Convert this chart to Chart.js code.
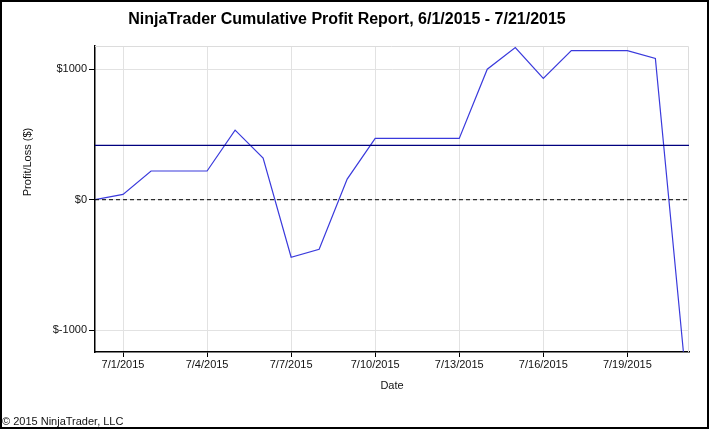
<!DOCTYPE html>
<html>
<head>
<meta charset="utf-8">
<title>NinjaTrader Cumulative Profit Report</title>
<script src="https://cdn.jsdelivr.net/npm/chart.js@4.4.1/dist/chart.umd.min.js"></script>
<style>
  body { margin: 0; background: #fff; }
  canvas { display: block; }
</style>
</head>
<body>
<canvas id="profitChart" width="709" height="429"></canvas>
<script>
// day index 0 = 6/30/2015
const days = ['6/30','7/1','7/2','7/3','7/4','7/5','7/6','7/7','7/8','7/9','7/10',
              '7/11','7/12','7/13','7/14','7/15','7/16','7/17','7/18','7/19','7/20','7/21'];
const profit = [0, 41, 220, 220, 220, 533, 319, -441, -380, 158, 470,
                470, 470, 470, 1000, 1166, 929, 1143, 1143, 1143, 1082, -1165];
const avgLevel = 416;
const zeroLevel = 0;
const tickDays = [1, 4, 7, 10, 13, 16, 19];
const tickLabels = ['7/1/2015','7/4/2015','7/7/2015','7/10/2015','7/13/2015','7/16/2015','7/19/2015'];
const yTicks = [-1000, 0, 1000];

const xMin = 0, xMax = 21.2;
const yMin = -1167, yMax = 1178;

const FONT = '"Liberation Sans", Arial, sans-serif';

const profitPoints = profit.map((v, i) => ({ x: i, y: v }));

const decor = {
    id: 'decor',
    beforeDraw(chart) {
        const ctx = chart.ctx;
        ctx.save();
        ctx.fillStyle = '#fff';
        ctx.fillRect(0, 0, chart.width, chart.height);
        ctx.restore();
    },
    beforeDatasetsDraw(chart) {
        const { ctx, chartArea: a } = chart;
        ctx.save();
        ctx.strokeStyle = '#dcdcdc';
        ctx.lineWidth = 1;
        ctx.beginPath();
        ctx.moveTo(a.left, a.top + 0.5);
        ctx.lineTo(a.right - 0.5, a.top + 0.5);
        ctx.lineTo(a.right - 0.5, a.bottom);
        ctx.stroke();
        ctx.restore();
    },
    afterDraw(chart) {
        const ctx = chart.ctx;
        ctx.save();
        ctx.fillStyle = '#000';
        ctx.textBaseline = 'alphabetic';

        ctx.font = 'bold 16px ' + FONT;
        ctx.textAlign = 'center';
        ctx.fillText('NinjaTrader Cumulative Profit Report, 6/1/2015 - 7/21/2015', 347, 24);

        ctx.font = '11px ' + FONT;
        ctx.fillStyle = '#111';
        ctx.fillText('Date', 392, 389);

        ctx.save();
        ctx.translate(31, 162);
        ctx.rotate(-Math.PI / 2);
        ctx.fillText('Profit/Loss ($)', 0, 0);
        ctx.restore();

        ctx.textAlign = 'left';
        ctx.fillText('\u00a9 2015 NinjaTrader, LLC', 2, 425);

        // outer frame
        ctx.strokeStyle = '#000';
        ctx.lineWidth = 2;
        ctx.strokeRect(1, 1, chart.width - 2, chart.height - 2);
        ctx.restore();
    }
};

new Chart(document.getElementById('profitChart').getContext('2d'), {
    type: 'line',
    data: {
        datasets: [
            {
                data: [{ x: xMin, y: zeroLevel }, { x: xMax, y: zeroLevel }],
                borderColor: '#000',
                borderWidth: 1,
                borderDash: [4, 3],
                pointRadius: 0
            },
            {
                data: [{ x: xMin, y: avgLevel }, { x: xMax, y: avgLevel }],
                borderColor: '#00007f',
                borderWidth: 1.3,
                pointRadius: 0
            },
            {
                data: profitPoints,
                borderColor: '#3a3adc',
                borderWidth: 1.2,
                pointRadius: 0,
                tension: 0
            }
        ]
    },
    options: {
        responsive: false,
        animation: false,
        devicePixelRatio: 1,
        layout: { padding: { left: 0, top: 46, right: 20, bottom: 0 } },
        plugins: {
            legend: { display: false },
            tooltip: { enabled: false },
            title: { display: false }
        },
        scales: {
            x: {
                type: 'linear',
                min: xMin,
                max: xMax,
                afterBuildTicks: (scale) => {
                    scale.ticks = tickDays.map(v => ({ value: v }));
                },
                afterFit: (scale) => { scale.height = 77; },
                ticks: {
                    callback: (v) => tickLabels[tickDays.indexOf(v)],
                    font: { family: FONT, size: 11 },
                    color: '#111',
                    padding: 1,
                    maxRotation: 0,
                    autoSkip: false
                },
                grid: { color: '#e2e2e2', tickColor: '#000', tickLength: 5, lineWidth: 1 },
                border: { color: '#000', width: 1.5 }
            },
            y: {
                type: 'linear',
                min: yMin,
                max: yMax,
                afterBuildTicks: (scale) => {
                    scale.ticks = yTicks.map(v => ({ value: v }));
                },
                afterFit: (scale) => { scale.width = 95; },
                ticks: {
                    callback: (v) => '$' + v,
                    font: { family: FONT, size: 11 },
                    color: '#111',
                    padding: 2
                },
                grid: { color: '#e2e2e2', tickColor: '#000', tickLength: 6, lineWidth: 1 },
                border: { color: '#000', width: 1.5 }
            }
        }
    },
    plugins: [decor]
});
</script>
</body>
</html>
